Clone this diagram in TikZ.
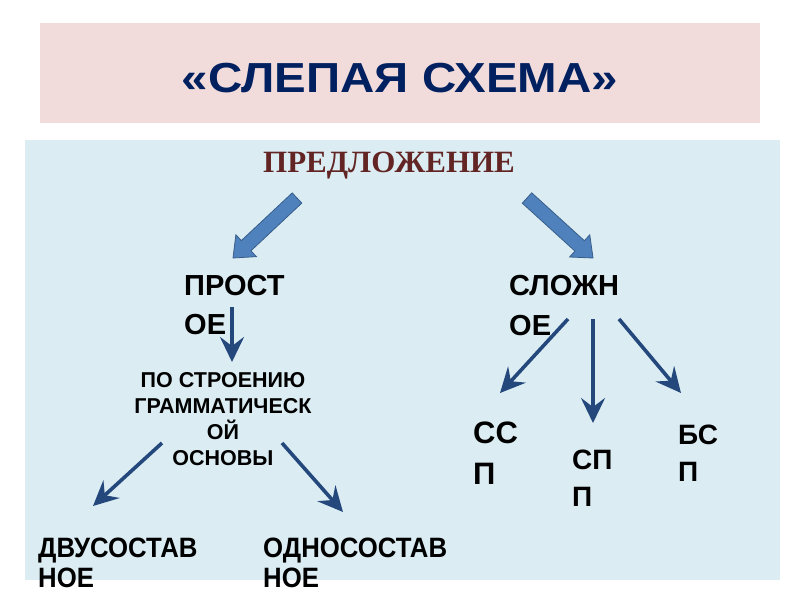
\documentclass[tikz,border=0pt]{standalone}
\usepackage{graphicx}
\usepackage{fontspec}
\setmainfont{Liberation Sans}
\newfontfamily\serifb{Liberation Serif}
\usetikzlibrary{calc,arrows.meta}
\definecolor{pinkbg}{RGB}{242,219,219}
\definecolor{bluebg}{RGB}{219,237,243}
\definecolor{navy}{RGB}{0,32,96}
\definecolor{brownred}{RGB}{99,37,35}
\definecolor{blockfill}{RGB}{79,129,189}
\definecolor{blockline}{RGB}{56,93,138}
\definecolor{arrowblue}{RGB}{36,72,124}
\newcommand\narrow[1]{\scalebox{0.92}[1]{#1}}
\tikzset{
  lbl/.style={inner sep=0pt, anchor=north west, align=left, text=black},
  thinarr/.style={draw=arrowblue, line width=3.6pt, -{Stealth[length=25pt,width=24pt,inset=9pt]}},
  blockarr/.style={draw=blockline, fill=blockfill, line width=0.8pt, line join=miter}
}
\newcommand\blockarrow[3]{%
  \coordinate (#3h) at ($(#2)!18pt!(#1)$);
  \path[blockarr] ($(#1)!7pt!90:(#2)$) -- ($(#3h)!7pt!-90:(#1)$) -- ($(#3h)!15pt!-90:(#1)$) -- (#2)
    -- ($(#3h)!15pt!90:(#1)$) -- ($(#3h)!7pt!90:(#1)$) -- ($(#1)!7pt!-90:(#2)$) -- cycle;}
\begin{document}
\begin{tikzpicture}[x=1pt,y=-1pt]
\useasboundingbox[fill=white] (0,0) rectangle (800,600);
\fill[pinkbg] (40,23) rectangle (760,123);
\fill[bluebg] (25,140) rectangle (780,580);
\node[inner sep=0pt, text=navy, font={\fontsize{42}{46}\selectfont\bfseries}] (title) at (400,78) {\scalebox{1.13}[1]{«СЛЕПАЯ СХЕМА»}};
\node[inner sep=0pt, anchor=north, text=brownred, font={\serifb\fontsize{31}{34}\selectfont\bfseries}] (sent) at (389,152) {ПРЕДЛОЖЕНИЕ};
% block arrows
\coordinate (bl1) at (297,198); \coordinate (bl2) at (233,258);
\coordinate (br1) at (527,198); \coordinate (br2) at (593,258);
\blockarrow{bl1}{bl2}{bl}
\blockarrow{br1}{br2}{br}
% labels
\node[lbl, font={\fontsize{29}{39}\selectfont\bfseries}] (simple) at (184,275) {ПРОСТ\\ОЕ};
\node[lbl, font={\fontsize{29}{40}\selectfont\bfseries}] (complex) at (509,275) {СЛОЖН\\ОЕ};
\node[inner sep=0pt, anchor=north, align=center, font={\fontsize{21.5}{26}\selectfont\bfseries}] (bystruct) at (223,372) {ПО СТРОЕНИЮ\\ГРАММАТИЧЕСК\\ОЙ\\ОСНОВЫ};
\node[lbl, font={\fontsize{28}{30}\selectfont\bfseries}] (two) at (38,538) {\narrow{ДВУСОСТАВ}\\\narrow{НОЕ}};
\node[lbl, font={\fontsize{28}{30}\selectfont\bfseries}] (one) at (263,538) {\narrow{ОДНОСОСТАВ}\\\narrow{НОЕ}};
\node[lbl, font={\fontsize{31}{41}\selectfont\bfseries}] (ssp) at (473,422) {СС\\П};
\node[lbl, font={\fontsize{28}{37}\selectfont\bfseries}] (spp) at (572,450) {СП\\П};
\node[lbl, font={\fontsize{28}{37}\selectfont\bfseries}] (bsp) at (678,425) {БС\\П};
% thin arrows
\coordinate (a1s) at (232,307); \coordinate (a1e) at (232,362);
\coordinate (a2s) at (162,443); \coordinate (a2e) at (93,506);
\coordinate (a3s) at (282,443); \coordinate (a3e) at (343,512);
\coordinate (a4s) at (568,319); \coordinate (a4e) at (500,393);
\coordinate (a5s) at (593,319); \coordinate (a5e) at (593,423);
\coordinate (a6s) at (619,319); \coordinate (a6e) at (681,393);
\draw[thinarr] (a1s) -- (a1e);
\draw[thinarr] (a2s) -- (a2e);
\draw[thinarr] (a3s) -- (a3e);
\draw[thinarr] (a4s) -- (a4e);
\draw[thinarr] (a5s) -- (a5e);
\draw[thinarr] (a6s) -- (a6e);
\end{tikzpicture}
\end{document}
